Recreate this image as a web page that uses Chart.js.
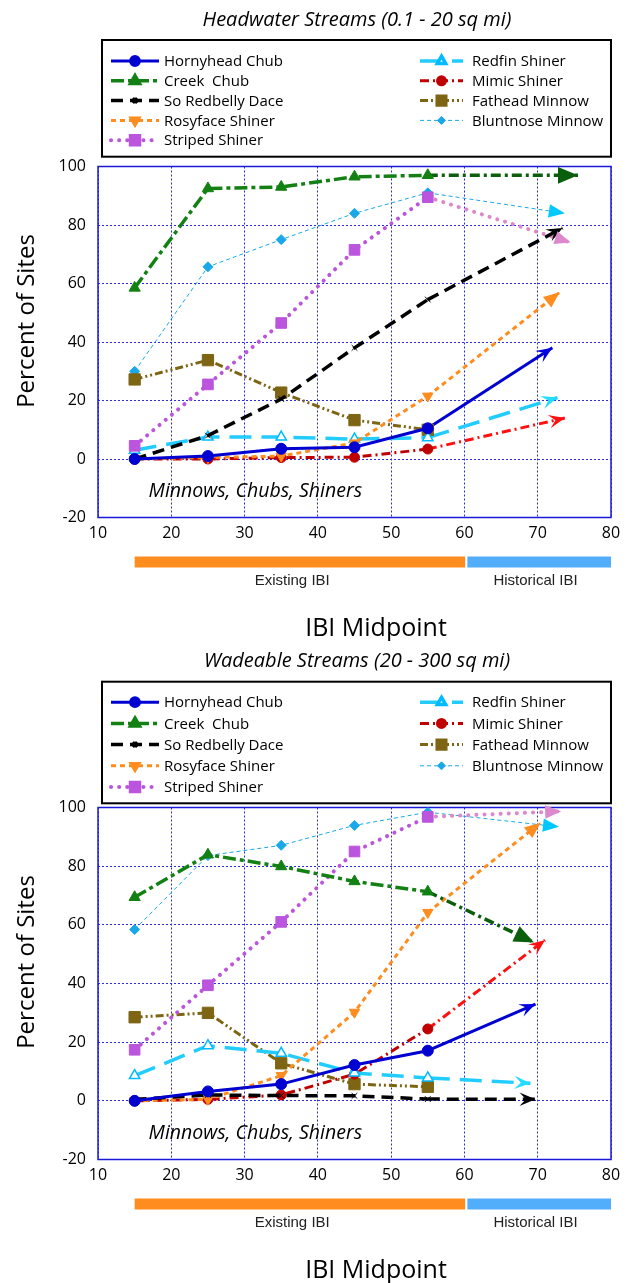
<!DOCTYPE html>
<html>
<head>
<meta charset="utf-8">
<script src="https://cdn.jsdelivr.net/npm/chart.js@4.4.1/dist/chart.umd.min.js"></script>
<style>
  html, body { margin: 0; padding: 0; background: #fff; }
  canvas { display: block; }
</style>
</head>
<body>
<canvas id="headChart" width="631" height="641"></canvas>
<canvas id="wadeChart" width="631" height="642"></canvas>
<script>
// ---- data ----
const ibiMidpoints = [15, 25, 35, 45, 55]
const species = ['Hornyhead Chub', 'Creek  Chub', 'So Redbelly Dace', 'Rosyface Shiner', 'Striped Shiner',
    'Redfin Shiner', 'Mimic Shiner', 'Fathead Minnow', 'Bluntnose Minnow']

// Headwater streams (0.1 - 20 sq mi), percent of sites
const hwHornyhead = [0, 1, 3.5, 4, 10.5]
const hwCreek = [58.5, 92.5, 93, 96.5, 97]
const hwRedbelly = [0, 8, 20.5, 38, 54.5]
const hwRosyface = [0, 0.5, 1, 5.5, 21.5]
const hwStriped = [4.5, 25.5, 46.5, 71.5, 89.5]
const hwRedfin = [3, 7.5, 7.5, 6.8, 7.3]
const hwMimic = [0, 0, 0.5, 0.6, 3.4]
const hwFathead = [27.2, 33.8, 22.7, 13.3, 10]
const hwBluntnose = [30, 65.7, 75, 84, 91]
// projected arrow ends (IBI, percent), null = no projection
const hwArrowIbi = [72, 75.5, 73.4, 73, 74.5, 72.7, 73.7, null, 73.7]
const hwArrowPct = [38, 97, 79, 57, 74, 21, 14, null, 84]

// Wadeable streams (20 - 300 sq mi)
const wsHornyhead = [0, 3.2, 5.7, 12.2, 17.1]
const wsCreek = [69.4, 83.9, 79.9, 74.8, 71.3]
const wsRedbelly = [0.5, 2, 1.8, 1.7, 0.6]
const wsRosyface = [0, 0.5, 8.6, 30.2, 64.2]
const wsStriped = [17.4, 39.4, 61, 85, 96.8]
const wsRedfin = [8.6, 18.8, 16.2, 9.5, 7.8]
const wsMimic = [0, 0.5, 2, 9.1, 24.5]
const wsFathead = [28.5, 30, 12.8, 5.7, 4.8]
const wsBluntnose = [58.4, 83.6, 87.1, 93.9, 98.4]
const wsArrowIbi = [69.7, 69.5, 69.7, 70.4, 73.2, 69, 71, null, 72.9]
const wsArrowPct = [33, 54, 0.5, 94.8, 98.7, 6, 54.8, null, 93.4]

// IBI ranges under the x axis
const rangeNames = ['Existing IBI', 'Historical IBI']
const rangeFrom = [15, 60.4]
const rangeTo = [60.1, 80]

// ---- styles ----
const comic = "'Comic Sans MS', 'Open Sans', sans-serif"
const styles = [
    { color: '#0000d0', width: 3, dash: [], point: 'circle', radius: 5.5, fill: '#0000d0', border: '#0000d0', arrow: 'stealth', arrowColor: '#0000e0' },
    { color: '#138013', width: 3.5, dash: [13, 4, 4, 4], point: 'triangle', radius: 6.5, fill: '#138013', border: '#138013',
        projColor: '#0b5e0b', projDash: [10, 4, 3, 4], arrow: 'triangle', arrowColor: '#0b5e0b', arrowSize: 20 },
    { color: '#000000', width: 3.5, dash: [12, 7], point: 'crossRot', radius: 4, fill: '#000', border: '#000', arrow: 'stealth', arrowColor: '#000' },
    { color: '#ff8c1e', width: 3, dash: [5, 4], point: 'triangle', rot: 180, radius: 6, fill: '#ff8c1e', border: '#ff8c1e', arrow: 'triangle', arrowColor: '#ff8c1e' },
    { color: '#bb55dd', width: 4, dash: [0.1, 8], cap: 'round', point: 'rect', radius: 7.5, fill: '#bb55dd', border: '#bb55dd',
        projColor: '#dd88cc', arrow: 'triangle', arrowColor: '#dd88cc' },
    { color: '#22ccff', width: 3.5, dash: [22, 10], point: 'triangle', radius: 6, fill: '#ffffff', border: '#00bbff', bw: 1.5, arrow: 'stealth', arrowColor: '#22ddff' },
    { color: '#c00000', width: 3, dash: [9, 4, 2, 4], point: 'circle', radius: 5, fill: '#c00000', border: '#c00000',
        projColor: '#ff1010', arrow: 'stealth', arrowColor: '#ff1010' },
    { color: '#7d6514', width: 3, dash: [8, 3, 2, 3, 2, 3], point: 'rect', radius: 8, fill: '#7d6514', border: '#7d6514' },
    { color: '#1aa8e8', width: 1, dash: [4, 3], point: 'rectRot', radius: 5, fill: '#1aa8e8', border: '#1aa8e8', arrow: 'triangle', arrowColor: '#00c8ff' },
]

function drawArrowHead(ctx, from, to, kind, color, size) {
    const ang = Math.atan2(to.y - from.y, to.x - from.x)
    const len = size || 16
    const half = len * 0.42
    ctx.save()
    ctx.translate(to.x, to.y)
    ctx.rotate(ang)
    ctx.fillStyle = color
    ctx.beginPath()
    ctx.moveTo(0, 0)
    ctx.lineTo(-len, -half)
    if (kind === 'stealth') ctx.lineTo(-len * 0.6, 0)
    ctx.lineTo(-len, half)
    ctx.closePath()
    ctx.fill()
    ctx.restore()
}

function makeChart(canvasId, title, seriesValues, arrowIbi, arrowPct, legendBox) {
    const datasets = []
    seriesValues.forEach((vals, i) => {
        const st = styles[i]
        datasets.push({
            label: species[i],
            isSeries: true,
            styleIdx: i,
            data: ibiMidpoints.map((x, k) => ({ x: x, y: vals[k] })),
            borderColor: st.color,
            borderWidth: st.width,
            borderDash: st.dash,
            borderCapStyle: st.cap || 'butt',
            pointStyle: st.point,
            pointRadius: st.radius,
            pointRotation: st.rot || 0,
            pointBackgroundColor: st.fill,
            pointBorderColor: st.border,
            pointBorderWidth: st.bw || 1,
            tension: 0,
            fill: false,
        })
    })
    seriesValues.forEach((vals, i) => {
        if (arrowIbi[i] === null) return
        const st = styles[i]
        datasets.push({
            label: species[i] + ' (projected)',
            arrow: st.arrow,
            arrowColor: st.arrowColor,
            arrowSize: st.arrowSize,
            data: [{ x: ibiMidpoints[4], y: vals[4] }, { x: arrowIbi[i], y: arrowPct[i] }],
            borderColor: st.projColor || st.color,
            borderWidth: st.width,
            borderDash: st.projDash || st.dash,
            borderCapStyle: st.cap || 'butt',
            pointRadius: 0,
            tension: 0,
            fill: false,
        })
    })

    const decor = {
        id: 'decor',
        beforeDatasetsDraw(chart) {
            const { ctx, chartArea: a } = chart
            ctx.save()
            ctx.strokeStyle = '#1a1ad8'
            ctx.lineWidth = 1.5
            ctx.strokeRect(a.left, a.top, a.right - a.left, a.bottom - a.top)
            ctx.restore()
        },
        afterDatasetsDraw(chart) {
            const ctx = chart.ctx
            chart.data.datasets.forEach((ds, i) => {
                if (!ds.arrow) return
                const pts = chart.getDatasetMeta(i).data
                drawArrowHead(ctx, pts[pts.length - 2], pts[pts.length - 1], ds.arrow, ds.arrowColor, ds.arrowSize)
            })
        },
        afterDraw(chart) {
            const { ctx, chartArea: a, scales } = chart
            const xs = scales.x, ys = scales.y
            ctx.save()
            // title
            ctx.fillStyle = '#000'
            ctx.textAlign = 'center'
            ctx.textBaseline = 'middle'
            ctx.font = 'italic 20px ' + comic
            ctx.fillText(title, 357, 20)

            // legend
            const lb = legendBox
            ctx.lineWidth = 2
            ctx.strokeStyle = '#000'
            ctx.strokeRect(lb.left, lb.top, lb.right - lb.left, lb.bottom - lb.top)
            ctx.font = '15px ' + comic
            ctx.textAlign = 'left'
            chart.data.datasets.filter(d => d.isSeries).forEach((ds) => {
                const i = ds.styleIdx
                const st = styles[i]
                const col = i < 5 ? 0 : 1
                const row = i < 5 ? i : i - 5
                const y = lb.top + lb.firstRow + row * lb.rowGap
                const x0 = col === 0 ? 111 : 420
                const x1 = col === 0 ? 159 : 463
                ctx.save()
                ctx.strokeStyle = st.color
                ctx.lineWidth = st.width
                ctx.lineCap = st.cap || 'butt'
                ctx.setLineDash(st.dash)
                ctx.beginPath()
                ctx.moveTo(x0, y)
                ctx.lineTo(x1, y)
                ctx.stroke()
                ctx.setLineDash([])
                ctx.fillStyle = st.fill
                ctx.strokeStyle = st.border
                Chart.helpers.drawPoint(ctx, { pointStyle: st.point, radius: st.radius * 0.8, rotation: st.rot || 0, borderWidth: st.bw || 1 }, (x0 + x1) / 2, y)
                ctx.restore()
                ctx.fillStyle = '#000'
                ctx.fillText(ds.label, col === 0 ? 164 : 472, y + 1)
            })

            // y title
            ctx.save()
            ctx.translate(27, 321)
            ctx.rotate(-Math.PI / 2)
            ctx.textAlign = 'center'
            ctx.font = '24px ' + comic
            ctx.fillText('Percent of Sites', 0, 0)
            ctx.restore()

            // note inside plot
            ctx.font = 'italic 19.5px ' + comic
            ctx.textAlign = 'left'
            ctx.fillText('Minnows, Chubs, Shiners', xs.getPixelForValue(16.9), ys.getPixelForValue(-11))

            // IBI range bars
            ctx.font = '15px "Liberation Sans", Arial, sans-serif'
            ctx.textAlign = 'center'
            const barColors = ['#ff8c1e', '#52aefa']
            const labelAt = [36.5, 69.7]
            rangeNames.forEach((name, k) => {
                const l = xs.getPixelForValue(rangeFrom[k])
                const r = xs.getPixelForValue(rangeTo[k])
                ctx.fillStyle = barColors[k]
                ctx.fillRect(l, a.bottom + 39, r - l, 11)
                ctx.fillStyle = '#222'
                ctx.fillText(name, xs.getPixelForValue(labelAt[k]), a.bottom + 63)
            })

            // x title
            ctx.fillStyle = '#000'
            ctx.font = '25px ' + comic
            ctx.fillText('IBI Midpoint', 376, a.bottom + 111)
            ctx.restore()
        }
    }

    return new Chart(document.getElementById(canvasId), {
        type: 'line',
        data: { datasets: datasets },
        options: {
            responsive: false,
            animation: false,
            events: [],
            layout: { padding: { top: 166.5, right: 20, bottom: 93.5, left: 0 } },
            plugins: { legend: { display: false }, tooltip: { enabled: false } },
            scales: {
                x: {
                    type: 'linear',
                    min: 10, max: 80,
                    ticks: { stepSize: 10, color: '#000', font: { family: comic, size: 16 }, padding: 6, maxRotation: 0 },
                    grid: { color: '#2a2ae0', lineWidth: 1, drawTicks: false },
                    border: { display: false, dash: [2, 2] },
                    afterFit: (s) => { s.height = 30 },
                },
                y: {
                    min: -20, max: 100,
                    ticks: { stepSize: 20, color: '#000', font: { family: comic, size: 16 }, padding: 12 },
                    grid: { color: '#2a2ae0', lineWidth: 1, drawTicks: false },
                    border: { display: false, dash: [2, 2] },
                    afterFit: (s) => { s.width = 98 },
                },
            },
        },
        plugins: [decor],
    })
}

makeChart('headChart', 'Headwater Streams (0.1 - 20 sq mi)',
    [hwHornyhead, hwCreek, hwRedbelly, hwRosyface, hwStriped, hwRedfin, hwMimic, hwFathead, hwBluntnose],
    hwArrowIbi, hwArrowPct,
    { left: 102, right: 611, top: 40, bottom: 156.7, firstRow: 21, rowGap: 19.8 })

makeChart('wadeChart', 'Wadeable Streams (20 - 300 sq mi)',
    [wsHornyhead, wsCreek, wsRedbelly, wsRosyface, wsStriped, wsRedfin, wsMimic, wsFathead, wsBluntnose],
    wsArrowIbi, wsArrowPct,
    { left: 102, right: 611, top: 40.7, bottom: 162.3, firstRow: 20.5, rowGap: 21.2 })
</script>
</body>
</html>
